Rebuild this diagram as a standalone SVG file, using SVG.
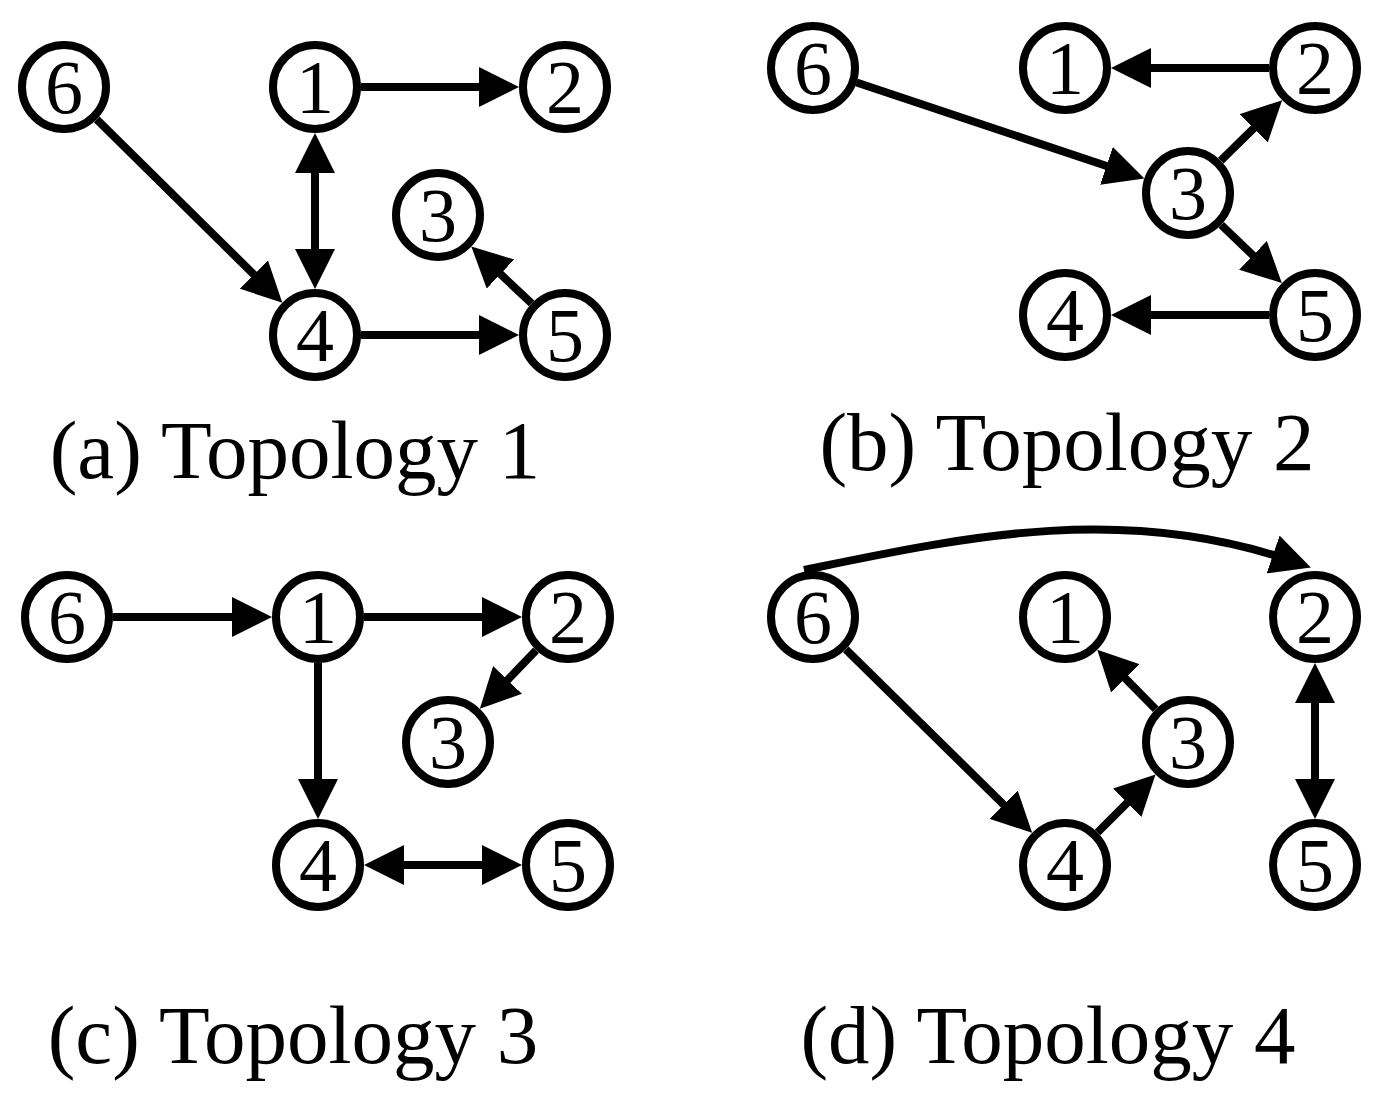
<svg xmlns="http://www.w3.org/2000/svg" width="1387" height="1096" viewBox="0 0 1387 1096">
<style>
.n circle{fill:#fff;stroke:#000;stroke-width:8}
.n text{font-family:"Liberation Serif","DejaVu Serif",serif;font-size:76px;text-anchor:middle;fill:#000}
.e path,.e line{stroke:#000;stroke-width:8;fill:none}
.cap{font-family:"Liberation Serif","DejaVu Serif",serif;font-size:83px;text-anchor:middle;fill:#000}
</style>
<defs>
<marker id="ah" markerUnits="userSpaceOnUse" markerWidth="40" markerHeight="40" viewBox="0 0 40 40" refX="20" refY="20" orient="auto-start-reverse">
<path d="M0,0 L40,20 L0,40 z" fill="#000"/>
</marker>
</defs>
<rect width="1387" height="1096" fill="#fff"/>
<g id="connectors" class="e">
<!-- (a) -->
<line x1="361" y1="87" x2="499" y2="87" marker-end="url(#ah)"/>
<line x1="96.7" y1="119.3" x2="268.1" y2="288.6" marker-end="url(#ah)"/>
<line x1="315" y1="153" x2="315" y2="269" marker-start="url(#ah)" marker-end="url(#ah)"/>
<line x1="531.6" y1="303.4" x2="485.9" y2="260.3" marker-end="url(#ah)"/>
<line x1="361" y1="335" x2="499" y2="335" marker-end="url(#ah)"/>
<!-- (b) -->
<line x1="1269" y1="68" x2="1131" y2="68" marker-end="url(#ah)"/>
<line x1="856.6" y1="82.5" x2="1125.4" y2="172.2" marker-end="url(#ah)"/>
<line x1="1220.8" y1="160.7" x2="1267.9" y2="114.3" marker-end="url(#ah)"/>
<line x1="1221.2" y1="224.9" x2="1267.4" y2="269.2" marker-end="url(#ah)"/>
<line x1="1269" y1="315" x2="1131" y2="315" marker-end="url(#ah)"/>
<!-- (c) -->
<line x1="113" y1="617" x2="252" y2="617" marker-end="url(#ah)"/>
<line x1="364" y1="617" x2="502" y2="617" marker-end="url(#ah)"/>
<line x1="536.1" y1="650.2" x2="493.7" y2="694.4" marker-end="url(#ah)"/>
<line x1="318" y1="663" x2="318" y2="799" marker-end="url(#ah)"/>
<line x1="384" y1="865" x2="502" y2="865" marker-start="url(#ah)" marker-end="url(#ah)"/>
<!-- (d) -->
<path d="M804,570 C960,538 1120,502 1292,561" marker-end="url(#ah)"/>
<line x1="845.8" y1="649.3" x2="1017.9" y2="818.7" marker-end="url(#ah)"/>
<line x1="1097.5" y1="832.5" x2="1141.4" y2="788.6" marker-end="url(#ah)"/>
<line x1="1155.7" y1="709.2" x2="1111.3" y2="664.1" marker-end="url(#ah)"/>
<line x1="1315" y1="683" x2="1315" y2="799" marker-start="url(#ah)" marker-end="url(#ah)"/>
</g>
<!-- (a) nodes -->
<g id="a6" class="n"><circle cx="64" cy="87" r="42"/><text x="64" y="113">6</text></g>
<g id="a1" class="n"><circle cx="315" cy="87" r="42"/><text x="315" y="113">1</text></g>
<g id="a2" class="n"><circle cx="565" cy="87" r="42"/><text x="565" y="113">2</text></g>
<g id="a3" class="n"><circle cx="438" cy="215" r="42"/><text x="438" y="241">3</text></g>
<g id="a4" class="n"><circle cx="315" cy="335" r="42"/><text x="315" y="361">4</text></g>
<g id="a5" class="n"><circle cx="565" cy="335" r="42"/><text x="565" y="361">5</text></g>
<!-- (b) nodes -->
<g id="b6" class="n"><circle cx="813" cy="68" r="42"/><text x="813" y="94">6</text></g>
<g id="b1" class="n"><circle cx="1065" cy="68" r="42"/><text x="1065" y="94">1</text></g>
<g id="b2" class="n"><circle cx="1315" cy="68" r="42"/><text x="1315" y="94">2</text></g>
<g id="b3" class="n"><circle cx="1188" cy="193" r="42"/><text x="1188" y="219">3</text></g>
<g id="b4" class="n"><circle cx="1065" cy="315" r="42"/><text x="1065" y="341">4</text></g>
<g id="b5" class="n"><circle cx="1315" cy="315" r="42"/><text x="1315" y="341">5</text></g>
<!-- (c) nodes -->
<g id="c6" class="n"><circle cx="67" cy="617" r="42"/><text x="67" y="643">6</text></g>
<g id="c1" class="n"><circle cx="318" cy="617" r="42"/><text x="318" y="643">1</text></g>
<g id="c2" class="n"><circle cx="568" cy="617" r="42"/><text x="568" y="643">2</text></g>
<g id="c3" class="n"><circle cx="448" cy="742" r="42"/><text x="448" y="768">3</text></g>
<g id="c4" class="n"><circle cx="318" cy="865" r="42"/><text x="318" y="891">4</text></g>
<g id="c5" class="n"><circle cx="568" cy="865" r="42"/><text x="568" y="891">5</text></g>
<!-- (d) nodes -->
<g id="d6" class="n"><circle cx="813" cy="617" r="42"/><text x="813" y="643">6</text></g>
<g id="d1" class="n"><circle cx="1065" cy="617" r="42"/><text x="1065" y="643">1</text></g>
<g id="d2" class="n"><circle cx="1315" cy="617" r="42"/><text x="1315" y="643">2</text></g>
<g id="d3" class="n"><circle cx="1188" cy="742" r="42"/><text x="1188" y="768">3</text></g>
<g id="d4" class="n"><circle cx="1065" cy="865" r="42"/><text x="1065" y="891">4</text></g>
<g id="d5" class="n"><circle cx="1315" cy="865" r="42"/><text x="1315" y="891">5</text></g>
<!-- captions -->
<text class="cap" x="295" y="478">(a) Topology 1</text>
<text class="cap" x="1067" y="470">(b) Topology 2</text>
<text class="cap" x="293" y="1063">(c) Topology 3</text>
<text class="cap" x="1048" y="1063">(d) Topology 4</text>
</svg>
